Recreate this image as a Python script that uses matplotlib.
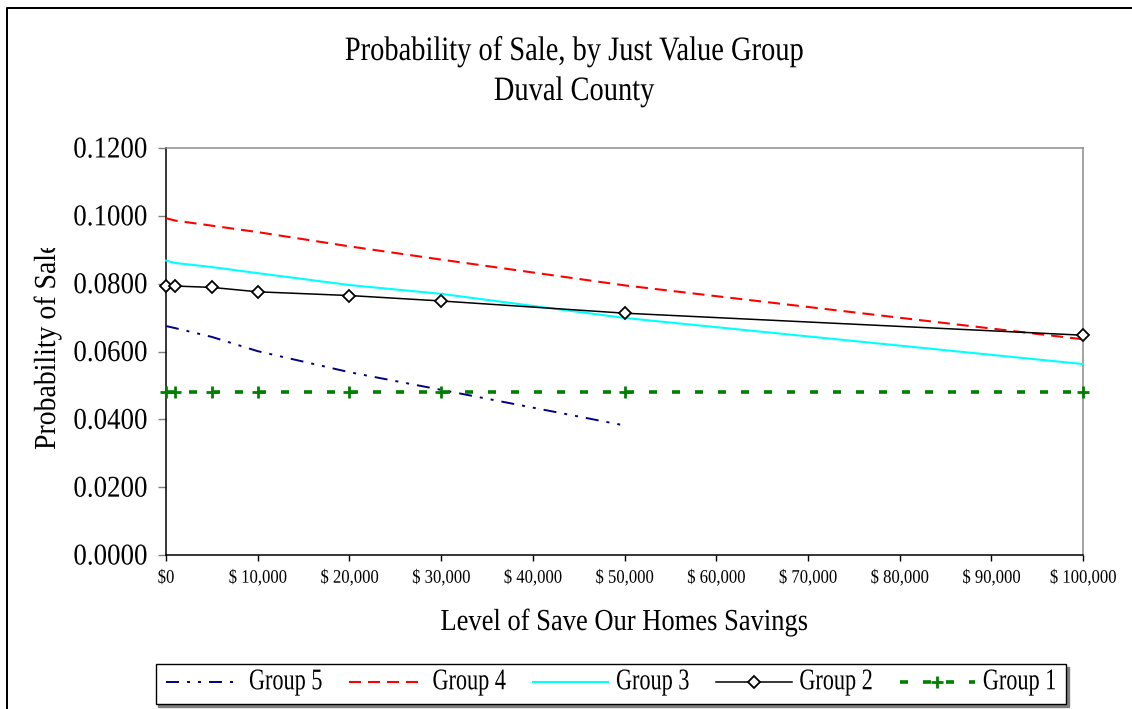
import matplotlib
matplotlib.use("Agg")
import matplotlib.pyplot as plt
from matplotlib.lines import Line2D
from matplotlib.patheffects import AbstractPathEffect
from matplotlib.transforms import Affine2D, Bbox, TransformedBbox

plt.rcParams['font.family'] = ['Liberation Serif', 'DejaVu Serif']
plt.rcParams['lines.scale_dashes'] = False

# Savings levels (dollars) and probability of sale for each just value group
savings = [0, 1000, 5000, 10000, 20000, 30000, 50000, 100000]
savings_g5 = [0, 1000, 5000, 10000, 20000, 30000, 50000]
group5 = [0.0675, 0.0669, 0.0643, 0.0601, 0.0539, 0.0487, 0.0382]
group4 = [0.0993, 0.0986, 0.0971, 0.0952, 0.0910, 0.0871, 0.0795, 0.0636]
group3 = [0.0868, 0.0861, 0.0849, 0.0831, 0.0796, 0.0770, 0.0699, 0.0563]
group2 = [0.0794, 0.0793, 0.0789, 0.0776, 0.0765, 0.0749, 0.0713, 0.0648]
group1 = [0.0481, 0.0481, 0.0481, 0.0481, 0.0481, 0.0481, 0.0481, 0.0481]

y_ticks = [0.0, 0.02, 0.04, 0.06, 0.08, 0.10, 0.12]
y_tick_labels = ["0.0000", "0.0200", "0.0400", "0.0600", "0.0800", "0.1000", "0.1200"]
x_ticks = [0, 10000, 20000, 30000, 40000, 50000, 60000, 70000, 80000, 90000, 100000]
x_tick_labels = ["$0", "$ 10,000", "$ 20,000", "$ 30,000", "$ 40,000", "$ 50,000",
                 "$ 60,000", "$ 70,000", "$ 80,000", "$ 90,000", "$ 100,000"]


class Stretch(AbstractPathEffect):
    """Draw glyphs taller than normal, stretched up from the baseline."""

    def __init__(self, sy):
        super().__init__()
        self._sy = sy

    def draw_path(self, renderer, gc, tpath, affine, rgbFace=None):
        renderer.draw_path(gc, tpath, Affine2D().scale(1.0, self._sy) + affine, rgbFace)


W, H = 1132, 709
PT = 72.0 / 100.0  # points per pixel


def fx(x):
    return x / W


def fy(y):
    return 1 - y / H


fig = plt.figure(figsize=(W / 100, H / 100), dpi=100)

# outer chart border (top and left edges visible)
fig.add_artist(Line2D([fx(7), fx(7), fx(1140)], [fy(715), fy(8), fy(8)],
                      transform=fig.transFigure, color='black', lw=2 * PT))

ax = fig.add_axes([fx(166), fy(555), (1083 - 166) / W, (555 - 148) / H])
ax.set_xlim(0, 100000)
ax.set_ylim(0, 0.12)

l5, = ax.plot(savings_g5, group5, color='#000080', lw=1.4,
              linestyle=(0, (13 * PT, 8 * PT, 3 * PT, 8 * PT, 3 * PT, 8 * PT)),
              clip_on=False, zorder=3)
l4, = ax.plot(savings, group4, color='#ff0000', lw=1.5,
              linestyle=(0, (12 * PT, 7 * PT)), clip_on=False, zorder=3)
l3, = ax.plot(savings, group3, color='#00ffff', lw=1.5, clip_on=False, zorder=3)
l2, = ax.plot(savings, group2, color='black', lw=1.1, marker='D', markersize=6,
              markerfacecolor='white', markeredgecolor='black', markeredgewidth=1.3,
              clip_on=False, zorder=4)
l1, = ax.plot(savings, group1, color='#008000', lw=2.6,
              linestyle=(0, (8 * PT, 15 * PT)), marker='+', markersize=9,
              markeredgewidth=2, clip_on=False, zorder=3)

ax.set_yticks(y_ticks, y_tick_labels, fontsize=19.4, path_effects=[Stretch(1.12)])
ax.set_xticks(x_ticks, x_tick_labels, fontsize=12, path_effects=[Stretch(1.15)])
ax.tick_params(axis='y', length=8 * PT, width=1, color='#808080', pad=8)
ax.tick_params(axis='x', length=6 * PT, width=1, color='black', pad=7)

for side in ('left', 'bottom'):
    ax.spines[side].set_color('black')
    ax.spines[side].set_linewidth(1.1)
for side in ('top', 'right'):
    ax.spines[side].set_color('#8c8c8c')
    ax.spines[side].set_linewidth(1.1)

# titles
fig.text(fx(574), fy(60), "Probability of Sale, by Just Value Group", ha='center',
         va='baseline', fontsize=20.5, path_effects=[Stretch(1.2)])
fig.text(fx(574), fy(100), "Duval County", ha='center', va='baseline',
         fontsize=20.5, path_effects=[Stretch(1.2)])

# axis titles
fig.text(fx(624), fy(630), "Level of Save Our Homes Savings", ha='center',
         va='baseline', fontsize=19.1, path_effects=[Stretch(1.15)])
ylab = fig.text(fx(55), fy(450), "Probability of Sale", rotation=90,
                rotation_mode='anchor', ha='left', va='baseline', fontsize=20,
                path_effects=[Stretch(1.1)])
ylab.set_clip_box(TransformedBbox(Bbox([[0, 0], [1, fy(248)]]), fig.transFigure))
ylab.set_clip_on(True)

leg = fig.legend([l5, l4, l3, l2, l1], ["Group 5", "Group 4", "Group 3", "Group 2", "Group 1"],
                 loc='center', bbox_to_anchor=(fx(611), fy(684)), ncol=5, numpoints=1,
                 fontsize=16, handlelength=3.4, handletextpad=0.35, columnspacing=1.2,
                 borderpad=0.45, fancybox=False, edgecolor='black', framealpha=1,
                 shadow={'color': '#808080', 'alpha': 1})
leg.get_frame().set_linewidth(1.0)
for t in leg.get_texts():
    t.set_path_effects([Stretch(1.35)])

fig.savefig("out.png", dpi=100)
